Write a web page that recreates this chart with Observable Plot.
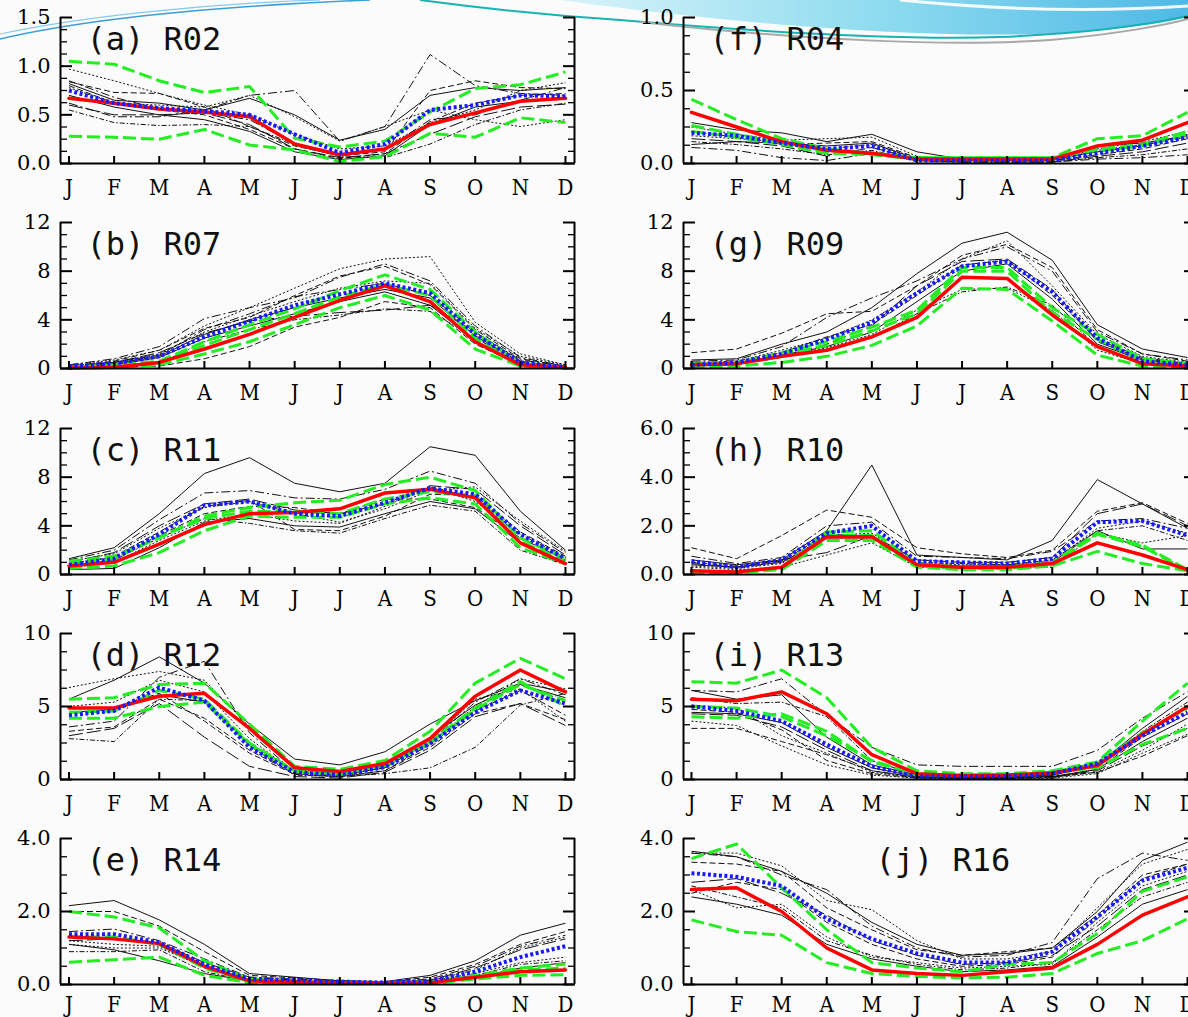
<!DOCTYPE html>
<html><head><meta charset="utf-8">
<script src="https://cdn.jsdelivr.net/npm/d3@7"></script>
<script src="https://cdn.jsdelivr.net/npm/@observablehq/plot@0.6"></script>
<style>
html,body{margin:0;padding:0;background:#fbfbfb;overflow:hidden;}
#wrap{position:relative;width:1188px;height:1017px;overflow:hidden;}
#deco{position:absolute;left:0;top:0;}
</style></head>
<body><div id="wrap"></div>
<script>
const months = ["J","F","M","A","M","J","J","A","S","O","N","D"];
const titles = ["(a) R02","(b) R07","(c) R11","(d) R12","(e) R14","(f) R04","(g) R09","(h) R10","(i) R13","(j) R16"];
const yMaxes = [1.5,12,12,10,4,1.0,12,6,10,4];
const yMajorSteps = [0.5,4,4,5,2,0.5,4,2,5,2];
const yDecimals = [1,0,0,0,1,1,0,1,0,1];

// (a) R02
const R02_red = [0.67,0.62,0.56,0.53,0.48,0.20,0.09,0.15,0.40,0.52,0.64,0.67];
const R02_blue = [0.75,0.62,0.57,0.54,0.50,0.30,0.11,0.20,0.55,0.60,0.70,0.69];
const R02_green = [
  [1.05,1.02,0.85,0.73,0.79,0.26,0.17,0.23,0.53,0.77,0.81,0.94],
  [0.28,0.27,0.25,0.35,0.19,0.14,0.02,0.07,0.31,0.27,0.47,0.42]];
const R02_black = [
  [0.82,0.65,0.62,0.55,0.67,0.50,0.24,0.35,0.70,0.78,0.75,0.78],
  [0.97,0.85,0.72,0.60,0.50,0.30,0.15,0.18,0.42,0.55,0.75,0.83],
  [0.80,0.62,0.55,0.50,0.35,0.15,0.05,0.10,0.43,0.62,0.70,0.72],
  [0.62,0.48,0.48,0.55,0.70,0.75,0.23,0.38,1.12,0.80,0.72,0.70],
  [0.60,0.50,0.50,0.52,0.40,0.15,0.06,0.10,0.30,0.48,0.58,0.61],
  [0.55,0.42,0.39,0.40,0.38,0.20,0.07,0.06,0.20,0.40,0.55,0.62],
  [0.70,0.58,0.50,0.45,0.33,0.12,0.04,0.08,0.40,0.58,0.64,0.68],
  [0.78,0.62,0.60,0.58,0.70,0.48,0.23,0.38,0.55,0.45,0.38,0.45],
  [0.84,0.73,0.72,0.58,0.38,0.18,0.08,0.12,0.75,0.85,0.78,0.77],
  [0.85,0.68,0.56,0.52,0.45,0.20,0.10,0.14,0.45,0.50,0.65,0.78]];

// (b) R07
const R07_red = [0.05,0.1,0.5,1.6,2.8,4.2,5.6,6.8,5.5,2.2,0.3,0.1];
const R07_blue = [0.2,0.4,1.0,2.6,3.9,5.2,6.1,7.0,6.2,2.8,0.5,0.1];
const R07_green = [
  [0.1,0.3,0.6,2.2,3.6,4.9,6.4,7.7,6.5,3.0,0.4,0.1],
  [0.1,0.2,0.5,1.9,3.2,4.5,5.9,6.9,6.0,2.5,0.3,0.1],
  [0.05,0.1,0.3,1.2,2.2,3.6,5.0,6.0,4.8,1.6,0.2,0.05]];
const R07_black = [
  [0.1,0.4,1.0,2.8,4.0,5.0,5.8,6.5,5.8,2.7,0.5,0.1],
  [0.3,0.7,1.5,3.5,5.0,6.6,8.2,9.0,9.2,3.8,1.2,0.3],
  [0.2,0.6,1.5,3.3,4.2,6.0,7.6,8.4,6.9,3.2,0.8,0.2],
  [0.3,0.8,1.8,4.1,5.0,5.8,7.5,8.6,7.2,3.5,0.9,0.2],
  [0.2,0.5,1.3,2.9,3.9,4.3,4.6,4.8,5.2,3.0,0.6,0.1],
  [0.1,0.2,0.4,2.2,3.2,4.0,4.4,4.9,4.7,2.5,0.5,0.1],
  [0.1,0.3,0.9,2.5,3.5,4.5,5.5,6.3,5.2,2.3,0.4,0.1],
  [0.2,0.5,1.2,3.0,4.3,5.5,6.6,7.2,7.0,3.3,1.0,0.3],
  [0.0,0.1,0.2,0.8,1.8,3.4,4.2,5.5,5.0,2.0,0.3,0.05],
  [0.2,0.5,1.1,3.2,4.5,5.9,6.5,7.0,6.0,3.0,0.7,0.2]];

// (c) R11
const R11_red = [0.7,1.0,2.5,4.1,5.0,5.1,5.4,6.7,7.0,6.3,2.6,0.9];
const R11_blue = [0.8,1.3,3.3,5.7,6.0,5.0,4.8,5.9,7.1,6.6,3.3,1.3];
const R11_green = [
  [1.1,1.5,3.0,4.8,5.5,5.9,6.1,7.4,8.0,6.9,3.0,1.3],
  [0.9,1.3,3.1,4.6,5.2,5.2,5.0,6.2,6.8,6.5,2.7,1.1],
  [0.5,0.7,1.8,3.6,4.8,4.7,4.7,5.8,6.3,5.8,2.2,0.9]];
const R11_black = [
  [1.3,2.2,5.0,8.3,9.6,7.5,6.8,7.5,10.5,9.8,5.2,2.0],
  [0.6,1.0,2.8,4.4,5.0,4.4,4.2,5.6,7.2,6.0,3.3,1.4],
  [0.8,1.5,3.5,5.6,6.1,3.7,3.6,4.8,6.6,6.5,3.5,1.5],
  [1.2,2.0,4.5,6.7,6.9,6.3,6.2,7.0,8.5,7.5,4.2,1.8],
  [1.0,1.8,4.0,5.8,6.2,5.3,5.0,5.8,7.3,7.0,4.0,1.6],
  [0.7,1.2,3.0,4.6,4.2,3.6,3.4,4.6,5.7,5.2,2.0,0.8],
  [0.4,0.5,2.2,4.3,4.6,4.0,3.9,5.0,6.0,5.4,2.6,0.8],
  [1.1,1.7,3.8,5.5,6.0,5.0,4.3,5.4,6.9,7.2,4.4,1.9],
  [0.9,1.4,3.2,5.0,5.6,5.5,5.0,6.2,6.2,5.5,3.0,1.2]];

// (d) R12
const R12_red = [4.9,4.9,5.7,5.9,3.5,0.8,0.55,1.1,2.8,5.7,7.5,6.0];
const R12_blue = [4.4,4.7,6.3,5.4,2.2,0.5,0.3,0.85,2.45,4.6,6.1,5.2];
const R12_green = [
  [5.5,5.6,6.5,6.6,3.8,0.9,0.7,1.3,3.3,6.6,8.3,6.9],
  [4.6,4.7,6.1,5.5,2.5,0.6,0.45,1.0,2.6,4.9,6.7,5.0],
  [4.2,4.2,5.0,5.3,2.4,0.55,0.4,0.95,2.5,4.8,6.5,5.4]];
const R12_black = [
  [5.5,6.8,8.4,6.6,3.8,1.4,1.0,1.9,3.8,5.4,6.6,6.0],
  [6.3,6.9,7.4,6.8,3.6,0.9,0.4,0.9,2.5,5.0,6.9,6.2],
  [3.3,3.6,5.5,4.2,2.0,0.4,0.2,0.6,2.2,4.5,5.2,4.1],
  [3.6,4.0,7.0,8.1,3.2,0.5,0.3,0.8,2.6,5.3,6.9,5.8],
  [3.0,3.5,5.2,2.9,0.9,0.2,0.1,0.5,2.0,4.3,5.2,3.7],
  [2.8,2.6,5.5,5.4,2.3,0.3,0.2,0.4,0.8,2.2,5.1,5.9],
  [4.6,4.8,5.8,5.3,2.5,0.6,0.4,1.0,2.9,5.1,6.5,5.6],
  [5.0,5.3,6.8,6.0,2.8,0.5,0.3,0.8,2.7,5.5,6.2,4.0],
  [4.9,4.9,5.9,4.0,1.8,0.35,0.2,0.6,2.4,4.7,6.1,4.4]];

// (e) R14
const R14_red = [1.3,1.25,1.12,0.5,0.1,0.07,0.05,0.04,0.05,0.2,0.35,0.4];
const R14_blue = [1.38,1.38,1.15,0.55,0.15,0.12,0.08,0.05,0.1,0.35,0.75,1.05];
const R14_green = [
  [2.0,1.85,1.55,0.65,0.15,0.08,0.05,0.05,0.07,0.25,0.45,0.56],
  [1.3,1.3,1.1,0.45,0.08,0.05,0.04,0.03,0.05,0.2,0.4,0.45],
  [0.61,0.68,0.75,0.25,0.05,0.03,0.02,0.02,0.03,0.15,0.25,0.27]];
const R14_black = [
  [2.16,2.3,1.77,1.1,0.3,0.2,0.1,0.08,0.25,0.65,1.35,1.68],
  [1.1,1.0,1.0,0.5,0.15,0.1,0.06,0.04,0.1,0.3,0.6,0.75],
  [2.0,2.0,1.6,0.9,0.25,0.18,0.1,0.07,0.2,0.55,1.1,1.45],
  [1.45,1.52,1.2,0.7,0.2,0.15,0.1,0.06,0.15,0.5,1.05,1.35],
  [1.2,1.25,1.15,0.6,0.2,0.12,0.08,0.05,0.12,0.45,0.95,1.25],
  [0.9,0.9,0.95,0.35,0.1,0.08,0.05,0.03,0.08,0.25,0.55,0.65],
  [1.1,0.95,0.65,0.3,0.1,0.07,0.05,0.04,0.06,0.2,0.45,0.6],
  [1.2,1.1,1.05,0.45,0.12,0.1,0.06,0.04,0.1,0.4,1.0,1.3]];

// (f) R04
const R04_red = [0.35,0.25,0.15,0.09,0.07,0.03,0.03,0.03,0.03,0.12,0.16,0.28];
const R04_blue = [0.21,0.19,0.14,0.10,0.12,0.02,0.02,0.02,0.02,0.07,0.12,0.18];
const R04_green = [
  [0.44,0.30,0.17,0.10,0.07,0.04,0.04,0.04,0.04,0.17,0.19,0.35],
  [0.26,0.20,0.14,0.08,0.07,0.04,0.04,0.04,0.04,0.09,0.12,0.20],
  [0.22,0.18,0.13,0.07,0.06,0.03,0.03,0.03,0.03,0.10,0.13,0.22]];
const R04_black = [
  [0.28,0.23,0.21,0.15,0.20,0.08,0.03,0.03,0.03,0.08,0.12,0.20],
  [0.25,0.20,0.16,0.17,0.18,0.05,0.02,0.02,0.02,0.10,0.15,0.22],
  [0.22,0.18,0.13,0.14,0.15,0.04,0.02,0.02,0.02,0.06,0.10,0.17],
  [0.11,0.09,0.04,0.02,0.07,0.02,0.01,0.01,0.01,0.03,0.04,0.06],
  [0.17,0.15,0.12,0.05,0.11,0.03,0.01,0.01,0.01,0.05,0.08,0.14],
  [0.15,0.13,0.10,0.06,0.09,0.02,0.01,0.01,0.01,0.04,0.06,0.10],
  [0.13,0.15,0.14,0.12,0.14,0.03,0.02,0.02,0.02,0.12,0.14,0.19],
  [0.19,0.17,0.15,0.10,0.13,0.04,0.02,0.02,0.02,0.09,0.13,0.18]];

// (g) R09
const R09_red = [0.3,0.4,1.0,1.5,2.6,4.2,7.5,7.4,4.4,1.8,0.4,0.2];
const R09_blue = [0.3,0.5,1.2,2.4,3.8,6.2,8.4,8.8,6.3,2.5,0.6,0.3];
const R09_green = [
  [0.4,0.5,1.3,2.2,3.4,4.8,8.3,8.3,5.0,2.8,0.8,0.4],
  [0.3,0.4,1.1,1.9,3.1,4.5,8.0,8.0,4.6,2.4,0.6,0.3],
  [0.1,0.2,0.5,1.0,1.9,3.5,6.6,6.5,3.9,1.1,0.2,0.1]];
const R09_black = [
  [0.7,0.8,2.0,3.0,5.0,7.8,10.3,11.2,8.9,3.6,1.6,0.9],
  [0.5,0.6,1.5,2.5,4.0,6.3,9.0,10.5,6.8,2.8,1.0,0.5],
  [1.3,1.6,2.9,4.5,4.7,6.8,9.3,10.2,8.3,3.2,1.2,0.6],
  [0.6,0.7,1.8,4.2,5.8,7.2,9.0,10.0,8.0,3.0,1.2,0.7],
  [0.3,0.4,1.0,2.0,3.5,6.8,8.8,9.0,6.5,2.2,0.8,0.4],
  [0.2,0.3,0.9,1.6,2.5,4.5,6.3,6.7,5.2,1.8,0.5,0.2],
  [0.3,0.4,1.1,1.8,3.0,5.5,8.0,8.6,5.7,2.0,0.7,0.3],
  [0.2,0.3,1.0,1.7,2.8,4.8,6.5,6.6,4.8,1.5,0.4,0.2],
  [0.4,0.5,1.3,2.6,3.6,6.0,8.5,8.9,6.0,2.4,0.9,0.4]];

// (h) R10
const R10_red = [0.15,0.1,0.3,1.55,1.55,0.4,0.3,0.3,0.45,1.3,0.8,0.2];
const R10_blue = [0.55,0.3,0.6,1.7,2.0,0.55,0.5,0.45,0.65,2.15,2.2,1.6];
const R10_green = [
  [0.12,0.1,0.3,1.75,1.8,0.45,0.3,0.3,0.5,1.7,1.2,0.2],
  [0.1,0.1,0.25,1.6,1.6,0.35,0.25,0.25,0.4,1.65,1.15,0.15],
  [0.08,0.08,0.2,1.4,1.4,0.3,0.2,0.2,0.35,0.95,0.45,0.15]];
const R10_black = [
  [0.6,0.4,0.6,1.8,4.5,0.8,0.7,0.6,1.4,3.9,2.9,1.9],
  [0.3,0.2,0.3,0.8,1.3,0.3,0.25,0.25,0.3,1.7,1.3,1.6],
  [1.1,0.65,1.6,2.65,2.35,1.1,0.85,0.7,1.0,2.6,2.95,2.1],
  [0.75,0.45,0.7,2.0,2.15,0.75,0.7,0.65,0.95,2.2,2.3,1.9],
  [0.45,0.3,0.6,0.9,1.6,0.6,0.5,0.5,0.7,2.5,2.9,2.0],
  [0.5,0.35,0.55,1.65,1.6,0.5,0.45,0.4,0.6,1.8,2.0,1.4],
  [0.4,0.3,0.5,1.5,1.5,0.4,0.35,0.35,0.5,1.8,1.05,1.05],
  [0.35,0.25,0.45,1.6,1.7,0.45,0.4,0.4,0.55,1.9,2.2,1.7]];

// (i) R13
const R13_red = [5.5,5.4,6.0,4.5,1.7,0.4,0.25,0.3,0.45,0.95,3.1,5.0];
const R13_blue = [5.0,4.7,4.0,2.4,0.9,0.2,0.2,0.2,0.4,1.1,3.0,4.6];
const R13_green = [
  [6.7,6.6,7.5,5.6,2.2,0.6,0.4,0.4,0.6,1.2,4.0,6.6],
  [5.0,4.9,4.3,3.0,1.3,0.35,0.3,0.3,0.5,1.1,3.2,4.9],
  [4.3,4.2,4.5,3.3,1.2,0.4,0.3,0.3,0.5,0.8,2.4,3.5]];
const R13_black = [
  [6.1,5.5,5.8,2.9,1.0,0.3,0.2,0.2,0.3,1.0,3.5,5.7],
  [4.0,3.7,2.3,1.0,0.3,0.1,0.05,0.05,0.1,0.4,1.8,3.1],
  [3.5,3.5,2.6,1.7,0.6,0.15,0.1,0.1,0.2,0.5,1.6,3.0],
  [6.1,6.0,6.9,4.4,2.2,1.0,0.9,0.9,0.9,2.0,4.2,6.0],
  [4.5,4.4,3.6,2.0,0.6,0.15,0.1,0.1,0.2,0.6,2.3,3.5],
  [5.6,5.2,5.3,4.3,1.3,0.3,0.2,0.2,0.3,0.9,3.3,5.3],
  [4.6,4.5,3.9,2.2,0.8,0.2,0.15,0.15,0.2,0.7,2.6,4.2],
  [5.1,4.9,3.0,1.8,0.5,0.12,0.1,0.1,0.15,0.5,2.0,3.8],
  [4.8,4.6,3.4,1.3,0.4,0.1,0.08,0.08,0.12,0.7,2.9,4.5]];

// (j) R16
const R16_red = [2.6,2.65,2.0,1.0,0.4,0.3,0.25,0.35,0.45,1.1,1.9,2.4];
const R16_blue = [3.05,2.95,2.7,1.8,1.25,0.85,0.6,0.6,0.9,1.85,2.85,3.2];
const R16_green = [
  [3.45,3.85,2.65,1.5,0.6,0.45,0.35,0.55,0.6,1.4,2.55,2.95],
  [1.77,1.45,1.35,0.6,0.3,0.22,0.18,0.2,0.3,0.85,1.2,1.8]];
const R16_black = [
  [3.65,3.5,3.1,2.5,1.7,1.1,0.8,0.85,1.0,2.0,3.4,3.9],
  [3.6,3.6,3.25,2.3,2.05,1.2,0.7,0.7,0.9,2.1,3.3,3.7],
  [3.35,3.3,3.1,2.1,1.5,0.95,0.8,0.9,1.0,1.9,3.0,3.3],
  [3.6,3.5,3.0,2.6,1.6,1.0,0.75,0.8,1.15,2.9,3.6,3.4],
  [2.8,2.9,2.5,1.9,1.2,0.8,0.55,0.6,0.8,1.6,2.6,3.0],
  [2.7,2.4,2.1,1.2,0.8,0.55,0.4,0.45,0.6,1.5,2.4,2.8],
  [2.4,2.2,1.9,1.1,0.7,0.5,0.35,0.4,0.5,1.3,2.2,2.6],
  [2.6,2.1,2.2,1.3,0.75,0.6,0.45,0.5,0.55,1.7,2.7,3.1],
  [2.5,2.8,2.6,1.7,1.1,0.7,0.5,0.55,0.75,1.8,2.9,3.3]];

const panelData = [
  [R02_black, R02_green, R02_red, R02_blue],
  [R07_black, R07_green, R07_red, R07_blue],
  [R11_black, R11_green, R11_red, R11_blue],
  [R12_black, R12_green, R12_red, R12_blue],
  [R14_black, R14_green, R14_red, R14_blue],
  [R04_black, R04_green, R04_red, R04_blue],
  [R09_black, R09_green, R09_red, R09_blue],
  [R10_black, R10_green, R10_red, R10_blue],
  [R13_black, R13_green, R13_red, R13_blue],
  [R16_black, R16_green, R16_red, R16_blue]];

const blackDashes = [null, "2,2", "6,3", "9,3,2,3", "14,4", "5,2,1.5,2"];
const frameTops = [17, 222, 428, 633, 838];
const MT = 10, MB = 40, FH = 146;
const wrap = document.getElementById("wrap");

// decorative slide swoosh (background art, not data)
wrap.insertAdjacentHTML("beforeend", `<svg id="deco" width="1188" height="70" viewBox="0 0 1188 70">
<defs><linearGradient id="sw" x1="0" x2="1" y1="0" y2="0">
<stop offset="0" stop-color="#d8f3f9"/><stop offset="0.5" stop-color="#8fdcef"/><stop offset="1" stop-color="#4fb9e6"/></linearGradient></defs>
<path d="M 560 0 C 720 22, 900 38, 1040 34 C 1110 31, 1160 24, 1188 17 L 1188 0 Z" fill="url(#sw)"/>
<path d="M 900 0 C 1000 10, 1100 12, 1188 6" stroke="#ffffff" stroke-width="3" fill="none" opacity="0.9"/>
<path d="M 420 0 C 480 8, 560 16, 620 20 C 760 32, 900 40, 1000 37 C 1100 33, 1160 22, 1188 16" stroke="#16b3b3" stroke-width="2" fill="none"/>
<path d="M 640 22 C 800 40, 950 47, 1050 40 C 1120 34, 1170 24, 1188 19" stroke="#a8a8a8" stroke-width="2" fill="none"/>
<path d="M 0 39 C 60 25, 170 8, 370 0" stroke="#3a9fd6" stroke-width="1.6" fill="none"/>
<path d="M 0 34 C 80 17, 200 4, 320 0" stroke="#86c9ea" stroke-width="1.2" fill="none"/>
</svg>`);

function makePanel(k) {
  const col = k >= 5 ? 1 : 0, row = k % 5;
  const [black, greens, red, blue] = panelData[k];
  const ymax = yMaxes[k], step = yMajorSteps[k];
  const major = d3.range(0, ymax + step / 2, step);
  const minor = d3.range(0, ymax + step / 8, step / 4).filter((v, i) => i % 4 !== 0);
  const fmt = d3.format("." + yDecimals[k] + "f");
  const xDom = col ? [-0.177, 11.177] : [-0.188, 11.2];
  const xi = (d, i) => i, yv = d => d;
  const marks = [];
  black.forEach((s, i) => marks.push(Plot.line(s, {x: xi, y: yv, stroke: "#111", strokeWidth: 1,
      strokeLinecap: "butt", strokeDasharray: blackDashes[i % blackDashes.length] || undefined})));
  greens.forEach(s => marks.push(Plot.line(s, {x: xi, y: yv, stroke: "#22ee22", strokeWidth: 3,
      strokeLinecap: "butt", strokeDasharray: "13,5"})));
  marks.push(Plot.line(red, {x: xi, y: yv, stroke: "#ff0000", strokeWidth: 3.5}));
  marks.push(Plot.line(blue, {x: xi, y: yv, stroke: "#1a1aff", strokeWidth: 4, strokeLinecap: "butt", strokeDasharray: "3,2.5"}));
  marks.push(
    Plot.ruleX([xDom[0]], {stroke: "black", strokeWidth: 2}),
    Plot.ruleX([xDom[1]], {stroke: "black", strokeWidth: 2}),
    Plot.ruleY([0], {stroke: "black", strokeWidth: 2}),
    Plot.axisY(major, {anchor: "left", tickSize: -12, tickPadding: 22, strokeWidth: 2, tickFormat: fmt,
      label: null, fontFamily: "DejaVu Serif", fontSize: 21}),
    Plot.axisY(major, {anchor: "right", tickSize: -12, strokeWidth: 2, fill: "none", label: null}),
    Plot.axisY(minor, {anchor: "left", tickSize: -7, strokeWidth: 1.3, fill: "none", label: null}),
    Plot.axisY(minor, {anchor: "right", tickSize: -7, strokeWidth: 1.3, fill: "none", label: null}),
    Plot.axisX(d3.range(12), {anchor: "bottom", tickSize: -7, tickPadding: row === 4 ? 19 : 23, strokeWidth: 2,
      tickFormat: i => months[i], label: null, fontFamily: "DejaVu Serif Condensed, DejaVu Serif", fontSize: 22}),
    Plot.text([titles[k]], {frameAnchor: "top-left", dx: k === 9 ? 192 : 26, dy: 10, lineAnchor: "top",
      textAnchor: "start", fontFamily: "DejaVu Sans Mono", fontSize: 32, fill: "#111"})
  );
  const svg = Plot.plot({
    width: 600, height: FH + MT + MB,
    marginLeft: col ? 83 : 60, marginRight: col ? 5 : 26, marginTop: MT, marginBottom: MB,
    x: {domain: xDom},
    y: {domain: [0, ymax]},
    style: {background: "transparent", overflow: "visible", color: "black"},
    marks
  });
  svg.style.position = "absolute";
  svg.style.left = (col ? 600 : 0) + "px";
  svg.style.top = (frameTops[row] - MT) + "px";
  svg.style.maxWidth = "none";
  wrap.appendChild(svg);
}
for (let k = 0; k < 10; k++) makePanel(k);
</script>
</body></html>
